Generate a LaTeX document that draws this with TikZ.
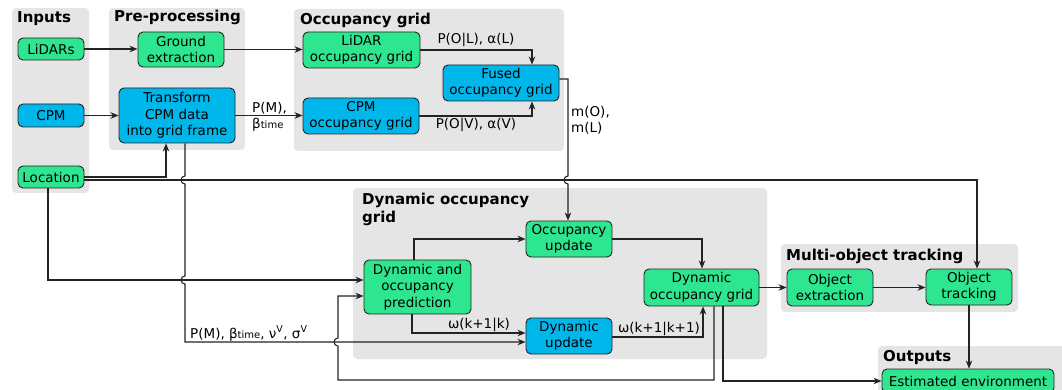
\documentclass[tikz,border=0pt]{standalone}
\usepackage{fontspec}
\setmainfont{DejaVu Sans}
\usetikzlibrary{arrows.meta}
\definecolor{boxgreen}{RGB}{46,230,144}
\definecolor{boxblue}{RGB}{0,183,235}
\definecolor{bggray}{RGB}{229,229,229}
\definecolor{linec}{RGB}{35,35,35}
\begin{document}
\begin{tikzpicture}[x=1pt,y=-1pt,
 box/.style={draw=linec, line width=0.9pt, rounded corners=5pt, align=center, inner sep=0pt, font=\fontsize{13.5}{16.5}\selectfont},
 gbox/.style={box, fill=boxgreen},
 bbox/.style={box, fill=boxblue},
 grp/.style={fill=bggray, rounded corners=4pt},
 ttl/.style={font=\fontsize{15}{18}\selectfont\bfseries, inner sep=0pt, align=left},
 arr/.style={draw=linec, line width=1.1pt, -{Stealth[length=8pt,width=6.5pt,inset=2.5pt]}},
 lbl/.style={font=\fontsize{13.5}{16}\selectfont, inner sep=0pt, align=left},
 sub/.style={}]
\useasboundingbox (0,0) rectangle (1062,390);
\clip (0,0) rectangle (1062,390);
% groups
\fill[grp] (12,8) rectangle (89,193);
\fill[grp] (109,8) rectangle (245,150);
\fill[grp] (294,9) rectangle (564,151);
\fill[grp] (353,188) rectangle (767,359);
\fill[grp] (781,244) rectangle (1018,312);
\fill[grp] (878,346) rectangle (1070,400);
% titles
\node[ttl, anchor=base west] (tin) at (17,22.5) {Inputs};
\node[ttl, anchor=base west] (tpre) at (114,22) {Pre-processing};
\node[ttl, anchor=base west] (tocc) at (300,24.3) {Occupancy grid};
\node[ttl, anchor=north west] (tdyn) at (362,192.5) {Dynamic occupancy\\grid};
\node[ttl, anchor=base west] (tmot) at (786,260) {Multi-object tracking};
\node[ttl, anchor=base west] (tout) at (883,361) {Outputs};
% nodes
\node[gbox, minimum width=66pt, minimum height=22pt] (lidars) at (51,49) {LiDARs};
\node[bbox, minimum width=66pt, minimum height=23pt] (cpmin) at (51,115.5) {CPM};
\node[gbox, minimum width=66pt, minimum height=22pt] (loc) at (51,177) {Location};
\node[gbox, minimum width=86pt, minimum height=35pt] (ground) at (181,49.5) {Ground\\extraction};
\node[bbox, minimum width=116pt, minimum height=55pt] (transform) at (177,115.5) {Transform\\CPM data\\into grid frame};
\node[gbox, minimum width=117pt, minimum height=36pt] (lidarocc) at (361.5,50) {LiDAR\\occupancy grid};
\node[bbox, minimum width=116pt, minimum height=36pt] (cpmocc) at (361,116) {CPM\\occupancy grid};
\node[bbox, minimum width=116pt, minimum height=36pt] (fused) at (501,83) {Fused\\occupancy grid};
\node[gbox, minimum width=86pt, minimum height=36pt] (occupd) at (569,239) {Occupancy\\update};
\node[gbox, minimum width=107pt, minimum height=54pt] (pred) at (417.5,287) {Dynamic and\\occupancy\\prediction};
\node[bbox, minimum width=86pt, minimum height=36pt] (dynupd) at (569,336) {Dynamic\\update};
\node[gbox, minimum width=115pt, minimum height=37pt] (dog) at (701.5,287.5) {Dynamic\\occupancy grid};
\node[gbox, minimum width=86pt, minimum height=37pt] (objext) at (830,287.5) {Object\\extraction};
\node[gbox, minimum width=86pt, minimum height=36pt] (objtrk) at (969,287) {Object\\tracking};
\node[gbox, minimum width=172pt, minimum height=24pt] (estenv) at (968,381) {Estimated environment};
% connectors
\draw[arr] (lidars.east) -- (lidars.east -| ground.west);
\draw[arr] (ground.east) -- (ground.east -| lidarocc.west);
\draw[arr] (cpmin.east) -- (cpmin.east -| transform.west);
\draw[arr] (transform.east) -- (transform.east -| cpmocc.west);
\node[lbl, anchor=north west] (lpm) at (252,102.4) {P(M),\\β{\fontsize{10}{10}\selectfont time}};
\draw[arr] (loc.east) -| ([xshift=-11pt]transform.south);
\draw[arr] ([yshift=-3pt]loc.east) -| ([xshift=8pt]objtrk.north);
\draw[arr] ([xshift=8pt]transform.south) -- (185,176) arc[start angle=90,end angle=270,radius=4pt]
  -- (185,276) arc[start angle=90,end angle=270,radius=4pt] -- (185,342) -- ([yshift=-6pt]dynupd.west);
\node[lbl, anchor=base west] (lpm2) at (190,338) {P(M), β{\fontsize{10}{10}\selectfont time}, ν\textsuperscript{V}, σ\textsuperscript{V}};
\draw[arr] ([xshift=-3pt]loc.south) |- ([yshift=7pt]pred.west);
\draw[arr] ([xshift=12.5pt]dog.south) -- (714,380) -- (338,380) -- (338,346) arc[start angle=270,end angle=90,radius=4pt]
  -- (338,296) -- ([yshift=-9pt]pred.west);
\draw[arr] ([xshift=21.5pt]dog.south) |- (estenv.west);
\draw[arr] ([xshift=-3.5pt]pred.north) |- (occupd.west);
\draw[arr] ([xshift=-5.5pt]pred.south) |- ([yshift=3pt]dynupd.west);
\node[lbl, anchor=base] (lw1) at (479,328.7) {ω(k+1|k)};
\draw[arr] ([yshift=-1pt]dynupd.east) -| ([xshift=1.5pt]dog.south);
\node[lbl, anchor=base] (lw2) at (659,332.7) {ω(k+1|k+1)};
\draw[arr] (occupd.east) -| ([xshift=0.5pt]dog.north);
\draw[arr] ([yshift=4pt]fused.east) -- (568,79) -- (568,176) arc[start angle=90,end angle=270,radius=4pt]
  -- ([xshift=-1pt]occupd.north);
\node[lbl, anchor=north west] (lm) at (571,106.5) {m(O),\\m(L)};
\draw[arr] (lidarocc.east) -| ([xshift=31pt]fused.north);
\node[lbl, anchor=base] (lol) at (476,44) {P(O|L), α(L)};
\draw[arr] (cpmocc.east) -| ([xshift=31pt]fused.south);
\node[lbl, anchor=base] (lov) at (476,128.5) {P(O|V), α(V)};
\draw[arr] (dog.east) -- (dog.east -| objext.west);
\draw[arr] (objext.east) -- (objext.east -| objtrk.west);
\draw[arr] (objtrk.south) -- (objtrk.south |- estenv.north);
\end{tikzpicture}
\end{document}
